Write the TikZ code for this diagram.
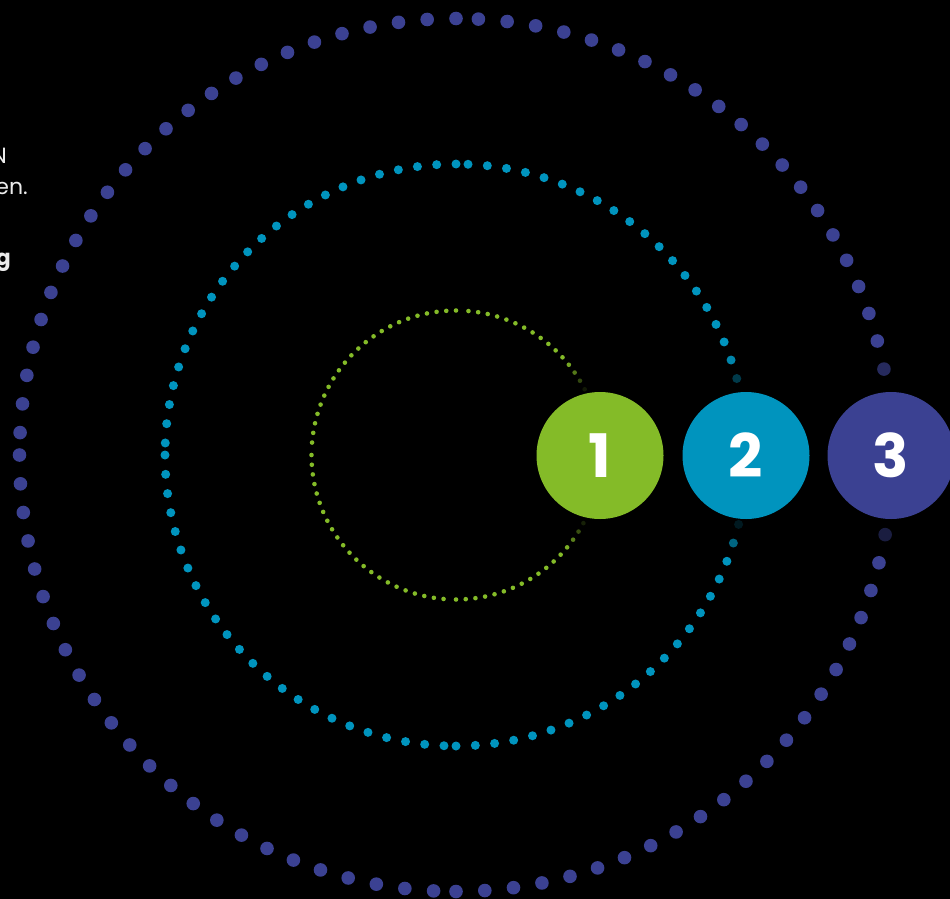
\documentclass[tikz,border=0pt]{standalone}
\usepackage{fontspec}
\setmainfont{Poppins}
\definecolor{cgreen}{RGB}{132,187,40}
\definecolor{cteal}{RGB}{0,148,190}
\definecolor{cind}{RGB}{59,65,146}
\definecolor{ctext}{RGB}{235,235,235}
\newcommand\dotring[7]{%
  \foreach \k in {0,1,2,3}{%
    \foreach \j in {1,...,#2}{%
      \pgfmathsetmacro\dpa{\k*90+(\j-1)*#3}%
      \pgfmathsetmacro\dpx{456+#1*cos(\dpa)}%
      \pgfmathsetmacro\dpy{455-#1*sin(\dpa)}%
      \pgfmathsetmacro\dpd{10*veclen((\dpx-#6)/10,(\dpy-#7)/10)}%
      \pgfmathtruncatemacro\dpf{max(0,min(100,(\dpd-63)/37*100))}%
      \fill[#5!\dpf!black] (\dpx,\dpy) circle[radius=#4];%
    }}}
\begin{document}
\begin{tikzpicture}[x=1pt,y=-1pt,
  bigc/.style={circle, inner sep=0pt, minimum size=127pt, text=white,
    font=\fontsize{60}{60}\selectfont\bfseries},
  txt/.style={text=ctext, inner sep=0pt, font=\fontsize{22}{22}\selectfont}]
\useasboundingbox (0,0) rectangle (950,899);
\fill[black] (0,0) rectangle (950,899);
\clip (0,0) rectangle (950,899);
% dotted rings
\dotring{436.5}{24}{3.785}{6.8}{cind}{891}{455.5}
\dotring{291}{24}{3.81}{4.5}{cteal}{746}{455.5}
\dotring{144.5}{23}{3.866}{2.3}{cgreen}{600}{455.5}
% big numbered circles
\node[bigc, fill=cgreen] (c1) at (600,455.5) {1};
\node[bigc, fill=cteal] (c2) at (746,455.5) {2};
\node[bigc, fill=cind] (c3) at (891,455.5) {3};
% clipped text fragments
\node[txt, anchor=base east] (t1) at (7,163) {N};
\node[txt, anchor=base east] (t2) at (28,194) {en.};
\node[txt, anchor=base east, font=\fontsize{22}{22}\selectfont\bfseries] (t3) at (11,265) {g};
\end{tikzpicture}
\end{document}
